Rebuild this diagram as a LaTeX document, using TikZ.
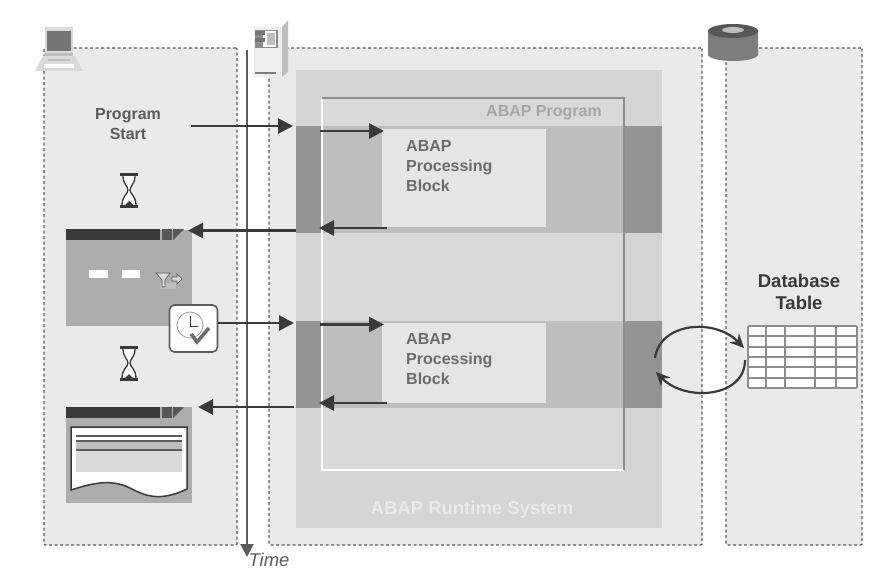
\documentclass[tikz,border=0pt]{standalone}
\usepackage{fontspec}
\setmainfont{Liberation Sans}
\usetikzlibrary{arrows.meta,shapes.geometric}
\definecolor{panelgray}{HTML}{EAEAEA}
\definecolor{runtimegray}{HTML}{D4D4D4}
\definecolor{framegray}{HTML}{D9D9D9}
\definecolor{bandgray}{HTML}{BEBEBE}
\definecolor{banddark}{HTML}{949494}
\definecolor{blockgray}{HTML}{E5E5E5}
\definecolor{inkgray}{HTML}{3A3A3A}
\definecolor{labelgray}{HTML}{5C5C5C}
\tikzset{
  box/.style={draw=none,inner sep=0pt,outer sep=0pt,rectangle},
  panel/.style={box,fill=panelgray,draw=labelgray,line width=1.4pt,dash pattern=on 3pt off 2.5pt,rounded corners=1pt},
  flow/.style={draw=inkgray,line width=2.8pt,-{Stealth[length=15pt,width=15pt,inset=0pt]}},
  looparrow/.style={draw=inkgray,line width=2.2pt,-{Stealth[length=14pt,width=13pt]}},
  caption/.style={inner sep=0pt,align=center,font=\bfseries\fontsize{16}{20}\selectfont,text=labelgray},
  blocktext/.style={inner sep=0pt,align=left,anchor=north west,font=\bfseries\fontsize{16}{20}\selectfont,text=labelgray!90!white},
  hourglass/.pic={
    \fill[white] (-7,-14) -- (7,-14) -- (1,0) -- (7,14) -- (-7,14) -- (-1,0) -- cycle;
    \draw[inkgray,line width=1.3pt] (-6,-14) .. controls (-6,-6) and (-1,-4) .. (-1,0) .. controls (-1,4) and (-7,6) .. (-7,15);
    \draw[inkgray,line width=1.3pt] (6,-14) .. controls (6,-6) and (1,-4) .. (1,0) .. controls (1,4) and (7,6) .. (7,15);
    \fill[inkgray] (-9,-17) rectangle (9,-14);
    \fill[inkgray] (-9,15) rectangle (9,18);
    \fill[inkgray] (-4,15) -- (0,11) -- (4,15) -- cycle;
  },
  titlebar/.pic={
    \fill[inkgray] (0,0) rectangle (94,11);
    \fill[inkgray!85!white] (96,0) rectangle (106,11);
    \fill[inkgray!85!white] (107,0) -- (118,0) -- (107,11) -- cycle;
  }
}
\begin{document}
\begin{tikzpicture}[x=1pt,y=-1pt]
  \useasboundingbox[fill=white] (0,0) rectangle (881,575);
  % panels
  \node[panel,minimum width=193pt,minimum height=497pt](client)at(140.5,296.5){};
  \node[panel,minimum width=433pt,minimum height=497pt](server)at(485.5,296.5){};
  \node[panel,minimum width=136pt,minimum height=497pt](dbpanel)at(794,296.5){};
  % runtime and program
  \node[box,fill=runtimegray,minimum width=366pt,minimum height=458pt](runtime)at(478.5,299){};
  \node[box,fill=framegray,minimum width=302pt,minimum height=372pt](program)at(473,284){};
  \node[box,fill=bandgray,minimum width=302pt,minimum height=107pt](bandA)at(473,179.5){};
  \node[box,fill=banddark,minimum width=26pt,minimum height=107pt](leftA)at(309,179.5){};
  \node[box,fill=banddark,minimum width=38pt,minimum height=107pt](rightA)at(643,179.5){};
  \node[box,fill=bandgray,minimum width=302pt,minimum height=87pt](bandB)at(473,364.5){};
  \node[box,fill=banddark,minimum width=26pt,minimum height=87pt](leftB)at(309,364.5){};
  \node[box,fill=banddark,minimum width=38pt,minimum height=87pt](rightB)at(643,364.5){};
  \draw[white,line width=1.5pt](program.north west)--(program.south west)--(program.south east);
  \draw[labelgray!70!white,line width=1.5pt](program.south east)--(program.north east)--(program.north west);
  \fill[labelgray!40!white] (383.5,130.5) rectangle (547.5,229);
  \fill[labelgray!40!white] (383.5,324.5) rectangle (547.5,405);
  \node[box,fill=blockgray,minimum width=164pt,minimum height=98pt](blockA)at(464,178){};
  \node[box,fill=blockgray,minimum width=164pt,minimum height=80pt](blockB)at(464,363){};
  \node[blocktext](textA)at(406,140.5){ABAP\\Processing\\Block};
  \node[blocktext](textB)at(406,333.5){ABAP\\Processing\\Block};
  \node[caption,text=labelgray!55!white](progtext)at(544,113){ABAP Program};
  \node[caption,text=panelgray,font=\bfseries\fontsize{18.5}{22}\selectfont](runtext)at(472,510){ABAP Runtime System};
  \node[caption](start)at(128,124){Program\\Start};
  \node[caption,font=\bfseries\fontsize{18.5}{22}\selectfont,text=inkgray](dbtext)at(799,291.5){Database\\Table};
  % laptop
  \fill[framegray] (45,27) rectangle (73,53);
  \fill[labelgray!85!white] (47,31) rectangle (71,51);
  \fill[bandgray] (45,53) rectangle (73,56);
  \fill[framegray] (43,56) -- (75,56) -- (83,71) -- (35,71) -- cycle;
  \fill[bandgray] (48,59) rectangle (70,61);
  \fill[white] (44,64) rectangle (74,68);
  % server
  \fill[bandgray] (282,26) -- (288,20) -- (288,72) -- (282,77) -- cycle;
  \fill[panelgray!80!white] (254,27) rectangle (282,77);
  \fill[white] (254,27) -- (282,27) -- (288,20) -- (262,20) -- cycle;
  \fill[labelgray!70!white] (255,30) rectangle (278,48);
  \fill[white] (263,31) rectangle (276,47);
  \fill[labelgray!85!white] (255,31) rectangle (265,35);
  \fill[labelgray!85!white] (255,38) rectangle (265,42);
  \fill[labelgray!40!white] (267,33) rectangle (275,45);
  \fill[labelgray!80!white] (255,72) rectangle (276,74.5);
  % database cylinder
  \fill[labelgray!80!white] (708,31) -- (708,55) .. controls (712,63) and (754,63) .. (758,55) -- (758,31) -- cycle;
  \fill[inkgray!85!white] (733,31) ellipse [x radius=25pt,y radius=7pt];
  \fill[bandgray] (733,30) ellipse [x radius=11pt,y radius=3pt];
  % time axis
  \coordinate (timetop) at (247,50);
  \coordinate (timeend) at (247,557);
  \draw[labelgray,line width=2.2pt,-{Stealth[length=13pt,width=13pt,inset=0pt]}](timetop)--(timeend);
  \node[inner sep=0pt,text=labelgray,font=\itshape\fontsize{18.5}{22}\selectfont](timetext)at(269,560){Time};
  % first window
  \node[box,fill=labelgray!50!white,minimum width=126pt,minimum height=96pt](winA)at(129,277.5){};
  \pic at (66,229) {titlebar};
  \fill[white] (89,270) rectangle (108,278);
  \fill[white] (122,270) rectangle (140,278);
  \fill[bandgray] (160,283) rectangle (176,289);
  \draw[labelgray,fill=framegray,line width=.7pt] (156,273) -- (170,273) -- (165,280) -- (165,287) -- (162,287) -- (162,280) -- cycle;
  \draw[labelgray,fill=framegray,line width=.7pt] (172,277) -- (177,277) -- (177,274) -- (182,279) -- (177,284) -- (177,281) -- (172,281) -- cycle;
  % second window
  \node[box,fill=labelgray!50!white,minimum width=126pt,minimum height=96pt](winB)at(129,455){};
  \pic at (66,407) {titlebar};
  \draw[inkgray,fill=white,line width=1.5pt] (71,427) -- (187,427) -- (187,489) .. controls (160,502) and (145,496) .. (130,488) .. controls (110,478) and (90,484) .. (71,490) -- cycle;
  \fill[framegray] (76,450) rectangle (182,472);
  \fill[bandgray] (76,442) rectangle (182,450);
  \draw[labelgray,line width=1.2pt] (76,436)--(182,436);
  \draw[labelgray,line width=1.2pt] (76,441)--(182,441);
  \draw[labelgray,line width=1.2pt] (76,450)--(182,450);
  % hourglasses
  \pic at (129,190) {hourglass};
  \pic at (129,363) {hourglass};
  % clock
  \node[box,fill=white,draw=labelgray,line width=1.6pt,rounded corners=5pt,minimum width=48pt,minimum height=47pt](clock)at(193.5,328.5){};
  \draw[labelgray!60!white,line width=.8pt] (190,325) circle (13pt);
  \draw[inkgray,line width=1pt] (190,316)--(190,326)--(198,326);
  \draw[labelgray!90!white,line width=3.5pt] (191,334)--(197,342)--(209,328);
  % database table
  \node[box,fill=white,draw=labelgray!70!white,line width=1.6pt,minimum width=109pt,minimum height=62pt,rounded corners=1pt](dbtable)at(802.5,357){};
  \foreach \x in {766,785,815,836}
    \draw[labelgray!70!white,line width=2.2pt] (\x,326)--(\x,388);
  \foreach \y in {336.3,346.6,357,367.3,377.6}
    \draw[labelgray!70!white,line width=2.2pt] (748,\y)--(857,\y);
  % flows
  \coordinate (startout) at (191,126);
  \coordinate (startin) at (293,126);
  \coordinate (enterA) at (320,131);
  \coordinate (enterAend) at (384,131);
  \coordinate (leaveA) at (387,228);
  \coordinate (leaveAend) at (319,228);
  \coordinate (backA) at (296,230.5);
  \coordinate (backAend) at (188,230.5);
  \coordinate (clockin) at (294,323);
  \coordinate (enterB) at (320,324.5);
  \coordinate (enterBend) at (384,324.5);
  \coordinate (leaveB) at (387,403);
  \coordinate (leaveBend) at (319,403);
  \coordinate (backB) at (294,407);
  \coordinate (backBend) at (198,407);
  \draw[flow](startout)--(startin);
  \draw[flow](enterA)--(enterAend);
  \draw[flow](leaveA)--(leaveAend);
  \draw[flow](backA)--(backAend);
  \draw[flow](clock.east|-clockin)--(clockin);
  \draw[flow](enterB)--(enterBend);
  \draw[flow](leaveB)--(leaveBend);
  \draw[flow](backB)--(backBend);
  % database access
  \coordinate (readout) at (655,358);
  \coordinate (readin) at (744,348);
  \coordinate (writeout) at (745,360);
  \coordinate (writein) at (656,372);
  \draw[looparrow](readout) .. controls (660,322) and (715,318) .. (readin);
  \draw[looparrow](writeout) .. controls (745,398) and (685,402) .. (writein);
\end{tikzpicture}
\end{document}
